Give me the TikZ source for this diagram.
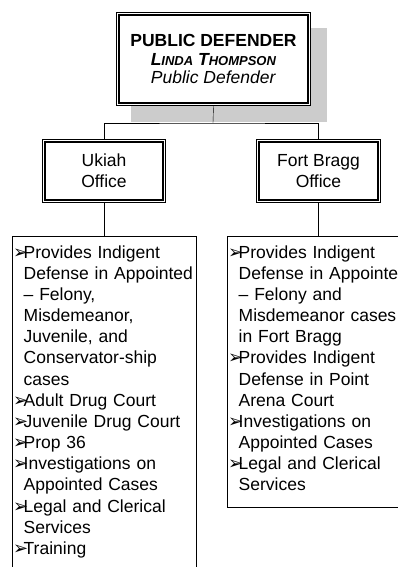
\documentclass[tikz,border=0pt]{standalone}
\usepackage{fontspec}
\setmainfont{Liberation Sans}
\newfontfamily\symfont{DejaVu Sans}
\newcommand{\bul}{\makebox[10.5pt][l]{\symfont\fontsize{18}{18}\selectfont\char"27A2}}
\newcommand{\itm}[1]{\mbox{\bul#1}}
\newcommand{\cnt}[1]{\mbox{\hspace*{10.5pt}#1}}
\newcommand{\fsc}[2]{{\fontsize{17.5}{18.5}\selectfont#1}{\fontsize{13}{18.5}\selectfont#2}}
\pgfdeclarelayer{shadow}
\pgfdeclarelayer{lines}
\pgfsetlayers{shadow,lines,main}

\begin{document}
\begin{tikzpicture}[x=1pt,y=-1pt,line width=0.8pt,
    dbox/.style={draw, line width=0.8pt, fill=white, inner sep=0pt, align=center},
    listbox/.style={draw, fill=white, anchor=north west, align=left, inner xsep=1pt, inner ysep=7.2pt, font=\fontsize{17.5}{21.15}\selectfont}]
    \clip (0,0) rectangle (398,567);
    \begin{pgfonlayer}{shadow}
    \fill[gray!40] (131,28) rectangle (327,122);
    \end{pgfonlayer}
    \node[dbox, minimum width=194.2pt, minimum height=93.2pt, font=\fontsize{17.5}{18.5}\selectfont] (pd) at (213.5,59)
        {\textbf{PUBLIC DEFENDER}\\ \textbf{\textit{\fsc{L}{INDA} \fsc{T}{HOMPSON}}}\\ \textit{Public Defender}};
    \node[dbox, minimum width=123.2pt, minimum height=63.2pt, font=\fontsize{17.5}{21}\selectfont] (ukiah) at (104,171) {Ukiah\\Office};
    \node[dbox, minimum width=124.2pt, minimum height=63.2pt, font=\fontsize{17.5}{21}\selectfont] (fortbragg) at (318.5,171) {Fort Bragg\\Office};
    \foreach \n in {pd,ukiah,fortbragg}
        \draw[line width=1.4pt] ([shift={(3,3)}]\n.north west) rectangle ([shift={(-3,-3)}]\n.south east);
    \node[listbox, text width=182pt] (ukiahlist) at (12,236) {\itm{\strut Provides Indigent}\\
        \cnt{Defense in Appointed}\\
        \cnt{– Felony,}\\
        \cnt{Misdemeanor,}\\
        \cnt{Juvenile, and}\\
        \cnt{Conservator-ship}\\
        \cnt{cases}\\
        \itm{Adult Drug Court}\\
        \itm{Juvenile Drug Court}\\
        \itm{Prop 36}\\
        \itm{Investigations on}\\
        \cnt{Appointed Cases}\\
        \itm{Legal and Clerical}\\
        \cnt{Services}\\
        \itm{Training\rule[-30pt]{0pt}{0pt}}};
    \node[listbox, text width=196pt] (fblist) at (227,236) {\itm{\strut Provides Indigent}\\
        \cnt{Defense in Appointed}\\
        \cnt{– Felony and}\\
        \cnt{Misdemeanor cases}\\
        \cnt{in Fort Bragg}\\
        \itm{Provides Indigent}\\
        \cnt{Defense in Point}\\
        \cnt{Arena Court}\\
        \itm{Investigations on}\\
        \cnt{Appointed Cases}\\
        \itm{Legal and Clerical}\\
        \cnt{Services\rule[-9pt]{0pt}{0pt}}};
    \coordinate (bus) at (213,123);
    \begin{pgfonlayer}{lines}
    \draw (pd.south) -- (bus);
    \draw (ukiah.north) |- (bus) -| (fortbragg.north);
    \draw (ukiah.south) -- (ukiah.south |- ukiahlist.north);
    \draw (fortbragg.south) -- (fortbragg.south |- fblist.north);
    \end{pgfonlayer}
\end{tikzpicture}
\end{document}
